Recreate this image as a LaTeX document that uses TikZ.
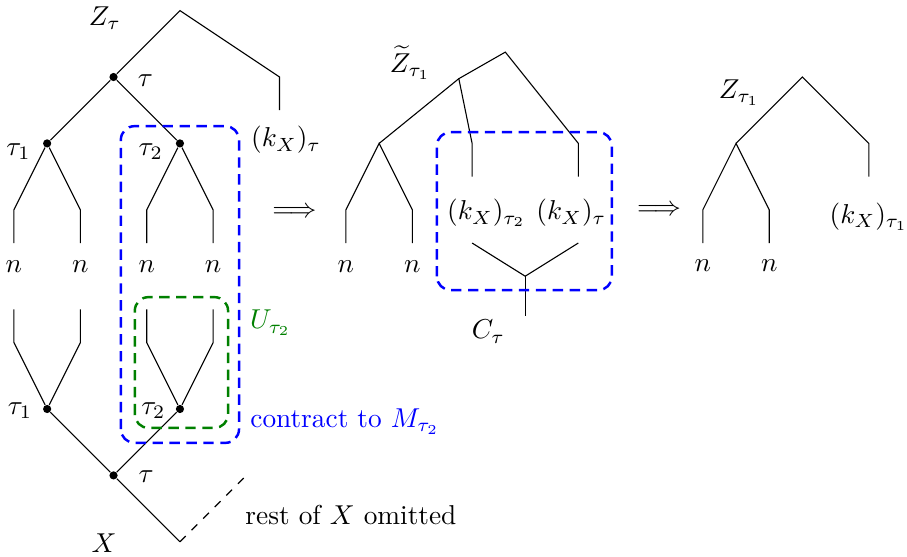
\documentclass[tikz,border=0pt]{standalone}
\usetikzlibrary{positioning, calc}
\usepackage{amsmath}
\tikzset{
  dot/.style={circle, fill, inner sep=0pt, minimum size=3pt},
  lab/.style={inner sep=1pt},
  cbox/.style={draw, line width=0.9pt, dash pattern=on 3.8pt off 2.4pt, rounded corners=5pt},
  rest/.style={dashed}
}
\colorlet{ugreen}{green!50!black}

\begin{document}
\begin{tikzpicture}[x=0.427cm, y=0.427cm]
	\useasboundingbox (-0.42,-9.43) rectangle (26.9,7.32);
	% left tree, upper half
	\coordinate (Zt) at (5,7);
	\node[dot] (t) at (3,5) {};
	\node[dot] (t1) at (1,3) {};
	\node[dot] (t2) at (5,3) {};
	\coordinate (kb) at (8,5);
	\coordinate (k) at (8,4);
	\foreach \x [count=\i] in {0,2,4,6} {
		\coordinate (b\i) at (\x,1);
		\coordinate (e\i) at (\x,0);
		\coordinate (f\i) at (\x,-2);
		\coordinate (g\i) at (\x,-3);
		\node (n\i) at (\x,-0.7) {$n$};
	}
	\draw (k) -- (kb) -- (Zt) -- (t);
	\draw (t1) -- (t) -- (t2);
	\draw (e1) -- (b1) -- (t1) -- (b2) -- (e2);
	\draw (e3) -- (b3) -- (t2) -- (b4) -- (e4);
	\node[lab] (Zlab) at (2.74,6.78) {$Z_\tau$};
	\node[lab] (tlab) at (3.96,4.9) {$\tau$};
	\node[lab] (t1lab) at (0.14,2.75) {$\tau_1$};
	\node[lab] (t2lab) at (4.12,2.75) {$\tau_2$};
	\node[lab] (klab) at (8.2,3.1) {$(k_X)_\tau$};
	% left tree, lower half
	\node[dot] (s) at (3,-7) {};
	\node[dot] (s1) at (1,-5) {};
	\node[dot] (s2) at (5,-5) {};
	\coordinate (X) at (5,-9);
	\coordinate (R) at (7,-7);
	\draw (f1) -- (g1) -- (s1) -- (g2) -- (f2);
	\draw (f3) -- (g3) -- (s2) -- (g4) -- (f4);
	\draw (s1) -- (s) -- (X);
	\draw (s2) -- (s);
	\draw[rest] (X) -- (R);
	\node[lab] (s1lab) at (0.18,-5.06) {$\tau_1$};
	\node[lab] (s2lab) at (4.2,-5.05) {$\tau_2$};
	\node[lab] (slab) at (3.98,-7.04) {$\tau$};
	\node[lab] (Xlab) at (2.71,-9.04) {$X$};
	\node (restlab) at (10.15,-8.19) {rest of $X$ omitted};
	% boxes
	\draw[cbox, blue] (3.22,-6.02) rectangle (6.78,3.52);
	\draw[cbox, ugreen] (3.64,-5.57) rectangle (6.45,-1.63);
	\node[text=ugreen] (Ulab) at (7.73,-2.41) {$U_{\tau_2}$};
	\node[text=blue] (Mlab) at (9.97,-5.38) {contract to $M_{\tau_2}$};
	\node (imp1) at (8.45,0.93) {$\Longrightarrow$};
	% middle tree
	\coordinate (Mt) at (14.8,5.75);
	\coordinate (Ma) at (13.4,4.95);
	\coordinate (Mb) at (11,3);
	\coordinate (ma1) at (13.8,3);
	\coordinate (ma2) at (13.8,2);
	\coordinate (mc1) at (17,3);
	\coordinate (mc2) at (17,2);
	\foreach \x [count=\i] in {10,12} {
		\coordinate (mb\i) at (\x,1);
		\coordinate (me\i) at (\x,0);
		\node (mn\i) at (\x,-0.7) {$n$};
	}
	\draw (mc2) -- (mc1) -- (Mt) -- (Ma) -- (Mb);
	\draw (Ma) -- (ma1) -- (ma2);
	\draw (me1) -- (mb1) -- (Mb) -- (mb2) -- (me2);
	\node[lab] (Mtlab) at (11.94,5.43) {$\widetilde{Z}_{\tau_1}$};
	\node[lab] (k2lab) at (14.23,0.9) {$(k_X)_{\tau_2}$};
	\node[lab] (k3lab) at (16.79,0.9) {$(k_X)_\tau$};
	\coordinate (c1) at (13.8,0);
	\coordinate (c2) at (17,0);
	\coordinate (cv) at (15.4,-1);
	\coordinate (cr) at (15.4,-2.2);
	\draw (c1) -- (cv) -- (c2);
	\draw (cv) -- (cr);
	\node[lab] (Clab) at (14.29,-2.67) {$C_\tau$};
	\draw[cbox, blue] (12.74,-1.42) rectangle (18.01,3.34);
	\node (imp2) at (19.43,0.97) {$\Longrightarrow$};
	% right tree
	\coordinate (Rt) at (23.75,5);
	\coordinate (Ra) at (21.75,3);
	\coordinate (rk1) at (25.75,3);
	\coordinate (rk2) at (25.75,2);
	\foreach \x [count=\i] in {20.75,22.75} {
		\coordinate (rb\i) at (\x,1);
		\coordinate (re\i) at (\x,0);
		\node (rn\i) at (\x,-0.68) {$n$};
	}
	\draw (rk2) -- (rk1) -- (Rt) -- (Ra);
	\draw (re1) -- (rb1) -- (Ra) -- (rb2) -- (re2);
	\node[lab] (Rtlab) at (21.85,4.52) {$Z_{\tau_1}$};
	\node[lab] (k1lab) at (25.75,0.79) {$(k_X)_{\tau_1}$};
\end{tikzpicture}
\end{document}
